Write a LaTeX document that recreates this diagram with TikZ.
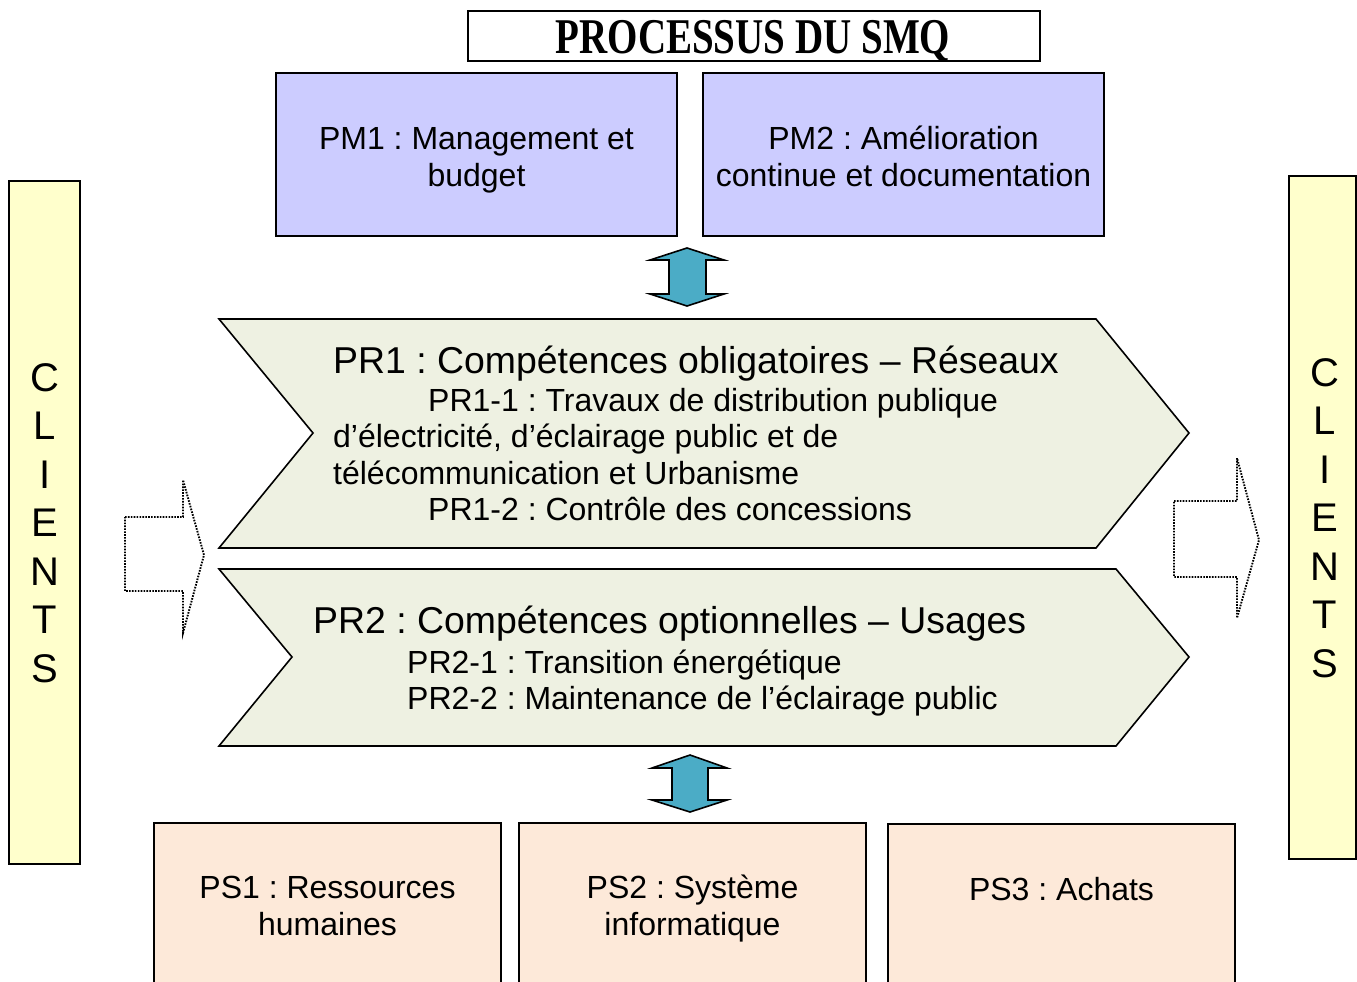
\documentclass[tikz,border=0pt]{standalone}
\usepackage{fontspec}
\setmainfont{Liberation Sans}
\newfontfamily\titlefont{Liberation Serif}
\definecolor{pmfill}{RGB}{204,204,255}
\definecolor{prfill}{RGB}{238,241,226}
\definecolor{psfill}{RGB}{253,233,217}
\definecolor{clfill}{RGB}{255,255,204}
\definecolor{teal}{RGB}{75,172,198}
\tikzset{
  boxline/.style={draw=black, line width=1.6pt},
  pmbox/.style={boxline, fill=pmfill},
  psbox/.style={boxline, fill=psfill},
  clbox/.style={boxline, fill=clfill},
  prshape/.style={boxline, fill=prfill, line join=miter},
  dblarrow/.style={draw=black, line width=1.6pt, fill=teal, line join=miter},
  dotarrow/.style={draw=black, line width=1.9pt, dash pattern=on 1.6pt off 1.3pt},
  txt/.style={inner sep=0pt, font=\frenchspacing\fontsize{32}{37}\selectfont},
  bigtxt/.style={inner sep=0pt, font=\frenchspacing\fontsize{37.4}{42}\selectfont},
  cltxt/.style={inner sep=0pt, font=\fontsize{40}{48}\selectfont, anchor=base}
}
\begin{document}
\begin{tikzpicture}[x=1pt,y=-1pt]
\useasboundingbox (0,0) rectangle (1357,982);
\clip (0,0) rectangle (1357,982);
\fill[white] (0,0) rectangle (1357,982);

% title
\draw[boxline] (468,11) rectangle (1040,61);
\node[inner sep=0pt, anchor=base] (title) at (753,54)
  {\titlefont\bfseries\fontsize{50}{50}\selectfont\scalebox{0.78}[1]{PROCESSUS DU SMQ}};

% PM boxes
\draw[pmbox] (276,73) rectangle (677,236);
\node[txt, anchor=base] (pm1a) at (476.5,149) {PM1 : Management et};
\node[txt, anchor=base] (pm1b) at (476.5,186) {budget};
\draw[pmbox] (703,73) rectangle (1104,236);
\node[txt, anchor=base] (pm2a) at (903.5,149) {PM2 : Amélioration};
\node[txt, anchor=base] (pm2b) at (903.5,186) {continue et documentation};

% top double arrow
\draw[dblarrow] (687,248) -- (724,260) -- (706,260) -- (706,294) -- (724,294)
  -- (687,306) -- (650,294) -- (669,294) -- (669,260) -- (650,260) -- cycle;

% PR1 chevron
\draw[prshape] (219,319) -- (1096,319) -- (1189,433) -- (1096,548) -- (219,548) -- (313,433) -- cycle;
\node[bigtxt, anchor=base west] (pr1t) at (333,373) {PR1 : Compétences obligatoires – Réseaux};
\node[txt, anchor=base west] (pr1a) at (428,411) {PR1-1 : Travaux de distribution publique};
\node[txt, anchor=base west] (pr1b) at (333,447.5) {d’électricité, d’éclairage public et de};
\node[txt, anchor=base west] (pr1c) at (333,484) {télécommunication et Urbanisme};
\node[txt, anchor=base west] (pr1d) at (428,520.5) {PR1-2 : Contrôle des concessions};

% PR2 chevron
\draw[prshape] (219,569) -- (1116,569) -- (1189,657) -- (1116,746) -- (219,746) -- (292,657) -- cycle;
\node[bigtxt, anchor=base west] (pr2t) at (313,633) {PR2 : Compétences optionnelles – Usages};
\node[txt, anchor=base west] (pr2a) at (407,673.5) {PR2-1 : Transition énergétique};
\node[txt, anchor=base west] (pr2b) at (407,709.5) {PR2-2 : Maintenance de l’éclairage public};

% bottom double arrow
\draw[dblarrow] (690,755) -- (727,768) -- (708,768) -- (708,800) -- (727,800)
  -- (690,812) -- (652,800) -- (672,800) -- (672,768) -- (652,768) -- cycle;

% PS boxes
\draw[psbox] (154,823) rectangle (501,995);
\node[txt, anchor=base] (ps1a) at (327.5,898) {PS1 : Ressources};
\node[txt, anchor=base] (ps1b) at (327.5,935) {humaines};
\draw[psbox] (519,823) rectangle (866,995);
\node[txt, anchor=base] (ps2a) at (692.5,898) {PS2 : Système};
\node[txt, anchor=base] (ps2b) at (692.5,935) {informatique};
\draw[psbox] (888,824) rectangle (1235,995);
\node[txt, anchor=base] (ps3a) at (1061.5,900) {PS3 : Achats};

% CLIENTS boxes
\draw[clbox] (9,181) rectangle (80,864);
\foreach \l [count=\i from 0] in {C,L,I,E,N,T,S}
  \node[cltxt] (cl\i) at (45,391+48.5*\i) {\l};
\draw[clbox] (1289,176) rectangle (1356,859);
\foreach \l [count=\i from 0] in {C,L,I,E,N,T,S}
  \node[cltxt] (cr\i) at (1325,386+48.5*\i) {\l};

% dotted arrows
\draw[dotarrow] (125,517) -- (183,517) -- (183,480) -- (204,555) -- (183,633) -- (183,591) -- (125,591) -- cycle;
\draw[dotarrow] (1174,501) -- (1237,501) -- (1237,458) -- (1259,540) -- (1237,618) -- (1237,577) -- (1174,577) -- cycle;
\end{tikzpicture}
\end{document}
